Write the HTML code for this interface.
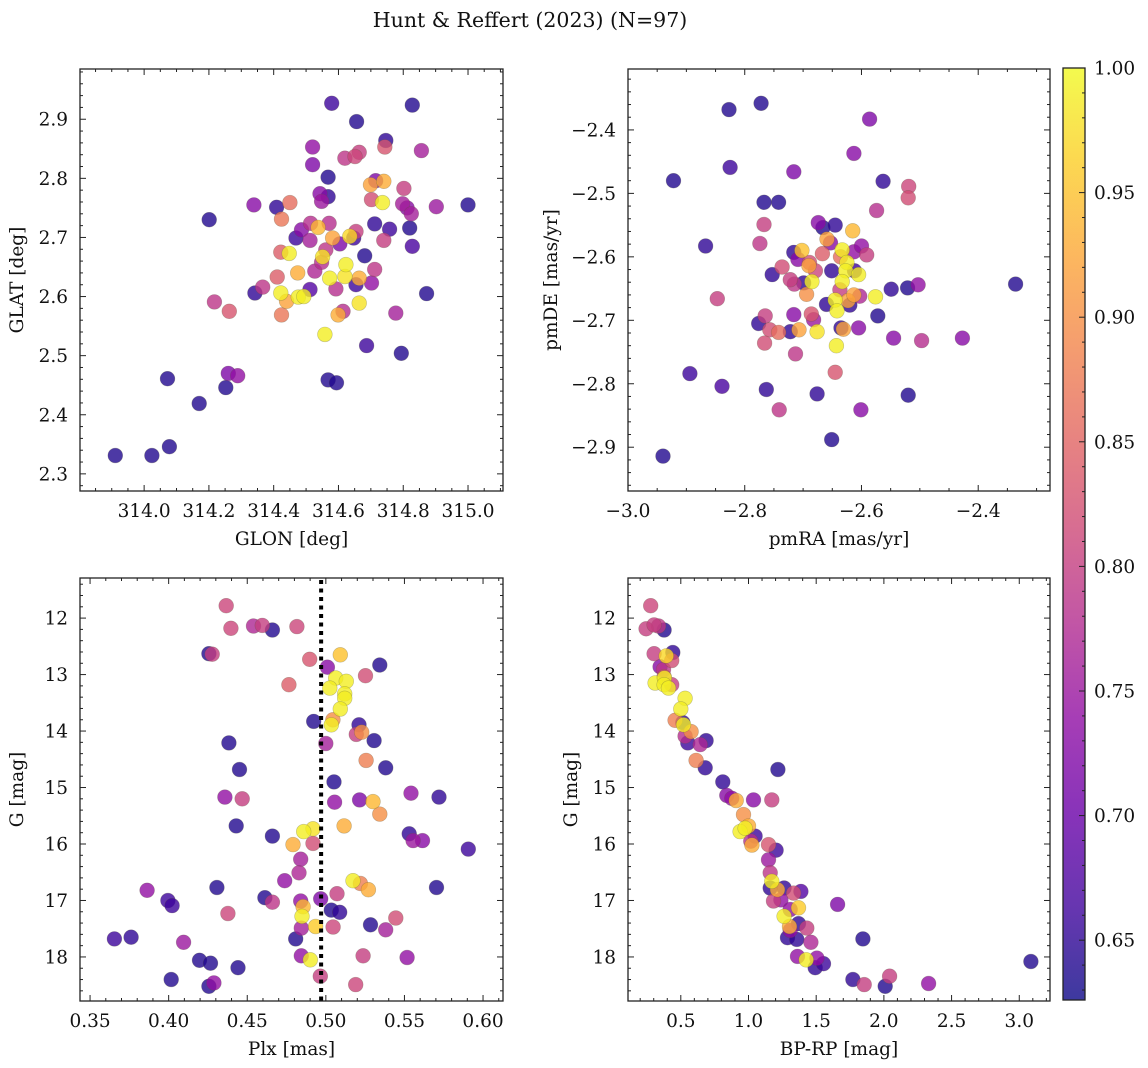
<!DOCTYPE html>
<html><head><meta charset="utf-8"><style>
html,body{margin:0;padding:0;background:#fff}
svg{display:block;font-family:"DejaVu Serif","Liberation Serif",serif}
</style></head><body>
<svg id="fig" width="1148" height="1068" viewBox="0 0 1148 1068" xmlns="http://www.w3.org/2000/svg">
<defs><linearGradient id="cbg" x1="0" y1="1" x2="0" y2="0">
<stop offset="0" stop-color="#0d0887"/><stop offset="0.1" stop-color="#41049d"/><stop offset="0.2" stop-color="#6a00a8"/><stop offset="0.3" stop-color="#8f0da4"/><stop offset="0.4" stop-color="#b12a90"/><stop offset="0.5" stop-color="#cc4778"/><stop offset="0.6" stop-color="#e16462"/><stop offset="0.7" stop-color="#f2844b"/><stop offset="0.8" stop-color="#fca636"/><stop offset="0.9" stop-color="#fcce25"/><stop offset="1" stop-color="#f0f921"/></linearGradient></defs>
<text x="530" y="27" text-anchor="middle" font-size="20.5" fill="#111">Hunt &amp; Reffert (2023) (N=97)</text>
</svg>
<script>
// ---- Panel 1: GLON / GLAT ----
const tlLon=[313.911,314.024,314.078,314.072,314.170,314.252,314.260,314.289,314.201,314.217,314.263,314.339,314.342,314.366,314.409,314.424,314.450,314.422,314.448,314.411,314.474,314.422,314.440,314.424,314.476,314.493,314.469,314.486,314.512,314.514,314.537,314.512,314.527,314.520,314.520,314.543,314.548,314.568,314.568,314.579,314.571,314.561,314.548,314.551,314.582,314.604,314.573,314.592,314.599,314.614,314.558,314.568,314.594,314.620,314.651,314.664,314.656,314.623,314.620,314.635,314.654,314.647,314.654,314.664,314.664,314.681,314.687,314.702,314.712,314.712,314.702,314.699,314.715,314.740,314.736,314.740,314.743,314.746,314.758,314.777,314.794,314.802,314.798,314.812,314.825,314.820,314.828,314.828,314.856,314.872,314.902,315.000];
const tlLat=[2.331,2.331,2.346,2.461,2.419,2.446,2.470,2.466,2.730,2.591,2.575,2.755,2.606,2.616,2.751,2.731,2.759,2.675,2.673,2.633,2.640,2.606,2.592,2.569,2.599,2.600,2.699,2.713,2.695,2.724,2.717,2.612,2.643,2.853,2.823,2.774,2.761,2.769,2.802,2.927,2.724,2.679,2.658,2.667,2.699,2.689,2.631,2.613,2.569,2.575,2.536,2.459,2.454,2.834,2.837,2.844,2.896,2.654,2.634,2.702,2.710,2.699,2.620,2.631,2.589,2.669,2.517,2.764,2.723,2.646,2.623,2.789,2.796,2.795,2.759,2.695,2.853,2.864,2.714,2.572,2.504,2.783,2.757,2.750,2.740,2.716,2.685,2.924,2.847,2.605,2.752,2.755];
const tlProb=[.64,.64,.64,.64,.64,.64,.72,.74,.64,.79,.83,.73,.65,.79,.65,.87,.86,.84,.99,.84,.93,.99,.92,.87,.99,.99,.66,.73,.76,.78,.94,.68,.77,.74,.72,.73,.75,.65,.64,.66,.78,.79,.78,.98,.92,.72,.99,.78,.93,.78,.99,.64,.64,.79,.81,.80,.64,.99,.98,.97,.80,.66,.66,.93,.98,.64,.66,.82,.65,.79,.74,.92,.72,.93,.99,.80,.83,.65,.66,.76,.64,.80,.76,.73,.76,.64,.67,.64,.76,.64,.75,.64];
// ---- Panel 2: pmRA / pmDE ----
const trRA=[-2.827,-2.772,-2.922,-2.825,-2.716,-2.767,-2.742,-2.867,-2.847,-2.894,-2.839,-2.940,-2.767,-2.774,-2.586,-2.613,-2.563,-2.519,-2.520,-2.574,-2.674,-2.666,-2.645,-2.659,-2.653,-2.615,-2.633,-2.636,-2.613,-2.600,-2.591,-2.625,-2.627,-2.612,-2.605,-2.633,-2.716,-2.702,-2.709,-2.689,-2.690,-2.667,-2.679,-2.685,-2.699,-2.736,-2.753,-2.722,-2.715,-2.694,-2.651,-2.637,-2.645,-2.642,-2.660,-2.623,-2.620,-2.613,-2.603,-2.576,-2.549,-2.521,-2.503,-2.336,-2.572,-2.716,-2.765,-2.776,-2.757,-2.742,-2.707,-2.722,-2.686,-2.682,-2.676,-2.635,-2.631,-2.643,-2.605,-2.766,-2.713,-2.645,-2.763,-2.676,-2.520,-2.741,-2.601,-2.651,-2.545,-2.497,-2.427];
const trDE=[-2.368,-2.358,-2.480,-2.459,-2.466,-2.514,-2.514,-2.583,-2.666,-2.784,-2.804,-2.914,-2.549,-2.579,-2.383,-2.437,-2.481,-2.489,-2.507,-2.527,-2.546,-2.554,-2.550,-2.572,-2.578,-2.559,-2.589,-2.600,-2.592,-2.583,-2.597,-2.609,-2.622,-2.622,-2.628,-2.639,-2.593,-2.590,-2.604,-2.609,-2.614,-2.595,-2.622,-2.639,-2.641,-2.616,-2.628,-2.636,-2.643,-2.659,-2.622,-2.652,-2.668,-2.685,-2.675,-2.669,-2.676,-2.660,-2.662,-2.663,-2.651,-2.649,-2.644,-2.643,-2.693,-2.691,-2.693,-2.705,-2.715,-2.719,-2.715,-2.718,-2.690,-2.699,-2.718,-2.712,-2.714,-2.740,-2.712,-2.736,-2.753,-2.782,-2.809,-2.816,-2.818,-2.841,-2.841,-2.888,-2.728,-2.732,-2.728];
const trProb=[.64,.64,.64,.66,.72,.64,.64,.65,.80,.66,.67,.64,.80,.79,.72,.73,.65,.81,.82,.78,.73,.64,.65,.92,.73,.94,.99,.86,.74,.74,.80,.99,.99,.66,.99,.99,.65,.95,.73,.82,.92,.84,.81,.99,.65,.82,.65,.80,.79,.90,.65,.80,.99,.99,.65,.92,.65,.92,.77,.99,.65,.64,.74,.64,.64,.73,.80,.65,.82,.86,.92,.65,.83,.75,.98,.65,.92,.99,.73,.82,.79,.83,.65,.65,.64,.79,.73,.64,.73,.78,.73];
// ---- Panel 3: Plx / G ----
const blPlx=[.4366,.4396,.454,.4596,.466,.4816,.4256,.4277,.5092,.4897,.501,.5343,.5063,.513,.5252,.4765,.5025,.512,.512,.5092,.5045,.5035,.4923,.5211,.5194,.5228,.5307,.4383,.5,.5256,.4451,.5381,.5052,.4358,.4468,.5056,.5215,.53,.5343,.5542,.572,.443,.4859,.4918,.5116,.466,.4791,.4918,.553,.5555,.5615,.5906,.484,.4829,.4738,.5173,.522,.5271,.3863,.4307,.5704,.5071,.4612,.466,.4967,.484,.4855,.4848,.3995,.4022,.4377,.5035,.5088,.4935,.4844,.5046,.5284,.5381,.5445,.3655,.3761,.4095,.4808,.4844,.4901,.5237,.5517,.4196,.4266,.4441,.4016,.4965,.4256,.4288,.519];
const blG=[11.78,12.18,12.14,12.13,12.21,12.15,12.63,12.64,12.65,12.73,12.87,12.83,13.06,13.12,13.02,13.18,13.24,13.34,13.42,13.61,13.80,13.89,13.83,13.89,14.06,14.02,14.17,14.21,14.22,14.52,14.68,14.65,14.90,15.17,15.20,15.26,15.22,15.25,15.47,15.10,15.17,15.68,15.78,15.73,15.68,15.86,16.01,15.99,15.82,15.94,15.94,16.09,16.27,16.51,16.65,16.65,16.70,16.81,16.82,16.77,16.77,16.88,16.95,17.03,16.97,17.01,17.11,17.28,17.00,17.09,17.23,17.17,17.21,17.46,17.49,17.47,17.43,17.52,17.31,17.68,17.65,17.74,17.68,17.98,18.05,17.98,18.01,18.06,18.11,18.19,18.40,18.34,18.52,18.46,18.49];
const blProb=[.81,.81,.77,.80,.64,.81,.64,.80,.95,.83,.73,.64,.99,.99,.82,.84,.99,.99,.99,.99,.90,.99,.64,.65,.80,.90,.64,.64,.76,.88,.64,.64,.64,.74,.80,.74,.72,.94,.90,.74,.65,.64,.99,.98,.93,.64,.93,.82,.65,.75,.73,.66,.76,.77,.74,.99,.88,.93,.74,.64,.64,.80,.64,.79,.72,.74,.94,.99,.66,.66,.81,.64,.65,.96,.76,.81,.64,.76,.82,.66,.65,.75,.64,.74,.99,.80,.74,.64,.64,.64,.64,.80,.64,.74,.81];
// ---- Panel 4: BP-RP / G ----
const brCol=[0.278,0.244,0.303,0.335,0.377,0.303,0.392,0.441,0.433,0.347,0.372,0.377,0.310,0.379,0.377,0.409,0.433,0.532,0.5,0.458,0.515,0.52,0.576,0.532,0.552,0.643,0.687,0.613,0.680,1.217,0.810,0.840,0.877,0.909,1.037,1.172,0.963,1.0,0.938,0.975,1.049,1.017,1.025,1.148,1.204,1.148,1.160,1.172,1.160,1.214,1.263,1.185,1.239,1.333,1.387,1.369,1.263,1.308,1.303,1.308,1.431,1.288,1.357,1.369,1.461,1.362,1.426,1.505,1.493,1.554,1.658,1.845,1.771,1.855,2.010,2.042,2.330,3.086];
const brG=[11.78,12.19,12.12,12.14,12.21,12.63,12.67,12.61,12.75,12.86,12.91,13.04,13.15,13.06,13.18,13.24,13.18,13.42,13.61,13.81,13.85,13.89,14.01,14.09,14.21,14.24,14.17,14.52,14.65,14.68,14.90,15.14,15.19,15.23,15.22,15.22,15.48,15.68,15.78,15.72,15.86,15.95,16.02,16.01,16.11,16.28,16.51,16.66,16.78,16.81,16.78,17.01,16.99,16.87,16.84,17.13,17.28,17.16,17.46,17.53,17.49,17.66,17.69,17.41,17.74,17.99,18.05,18.02,18.19,18.12,17.07,17.68,18.40,18.49,18.52,18.34,18.47,18.08];
const brProb=[.81,.80,.80,.79,.64,.80,.97,.65,.82,.73,.79,.83,.99,.99,.99,.99,.80,.99,.99,.88,.65,.99,.90,.78,.66,.77,.65,.88,.65,.64,.65,.73,.74,.93,.73,.80,.90,.93,.99,.99,.66,.78,.93,.83,.66,.75,.79,.99,.65,.93,.65,.80,.74,.82,.68,.96,.99,.74,.93,.74,.80,.65,.65,.65,.77,.74,.99,.74,.65,.66,.72,.64,.65,.80,.64,.80,.74,.64];
// ---- tick label arrays ----
const tlXTicks=[314.0,314.2,314.4,314.6,314.8,315.0];
const tlYTicks=[2.3,2.4,2.5,2.6,2.7,2.8,2.9];
const trXTicks=[-3.0,-2.8,-2.6,-2.4];
const trYTicks=[-2.9,-2.8,-2.7,-2.6,-2.5,-2.4];
const blXTicks=[0.35,0.40,0.45,0.50,0.55,0.60];
const gTicks=[12,13,14,15,16,17,18];
const brXTicks=[0.5,1.0,1.5,2.0,2.5,3.0];
const cbTicks=[0.65,0.70,0.75,0.80,0.85,0.90,0.95,1.00];
const plxCut=[0.497];

const svg=document.getElementById('fig');
const NS='http://www.w3.org/2000/svg';
const FS=18.5;
function mk(tag,attrs,parent){const e=document.createElementNS(NS,tag);for(const k in attrs)e.setAttribute(k,attrs[k]);(parent||svg).appendChild(e);return e;}
const stops=[[13,8,135],[65,4,157],[106,0,168],[143,13,164],[177,42,144],[204,71,120],[225,100,98],[242,132,75],[252,166,54],[252,206,37],[240,249,33]];
const VMIN=0.626,VMAX=1.0;
function plasma(v){let t=(v-VMIN)/(VMAX-VMIN);t=Math.max(0,Math.min(1,t));const f=t*10,i=Math.min(9,Math.floor(f)),r=f-i;const a=stops[i],b=stops[i+1];return 'rgb('+[0,1,2].map(k=>Math.round(a[k]+(b[k]-a[k])*r)).join(',')+')';}
function fmt(v,d){const s=Math.abs(v).toFixed(d);return (v<0?'\u2212':'')+s;}

function panel(cfg){
  const {name,x0,x1,y0,y1,xlim,ylim,invY,xt,yt,xd,yd,xminor,yminor,xlabel,ylabel,ylabX}=cfg;
  const g=mk('g',{});
  
  
  const sx=v=>x0+(v-xlim[0])/(xlim[1]-xlim[0])*(x1-x0);
  const sy=invY?(v=>y0+(v-ylim[0])/(ylim[1]-ylim[0])*(y1-y0)):(v=>y1-(v-ylim[0])/(ylim[1]-ylim[0])*(y1-y0));
  const pg=mk('g',{},g);
  
  
  const order=cfg.px.map((_,i)=>i).sort((a,b)=>cfg.pc[a]-cfg.pc[b]);
  order.forEach(i=>{
    const c=mk('circle',{cx:sx(cfg.px[i]).toFixed(1),cy:sy(cfg.py[i]).toFixed(1),r:7.4,fill:plasma(cfg.pc[i]),'fill-opacity':0.8,stroke:'rgba(90,90,60,0.35)','stroke-width':0.6},pg);
    
    
  });
  if(cfg.extra)cfg.extra(g,sx,sy);
  const fr=mk('rect',{x:x0,y:y0,width:x1-x0,height:y1-y0,fill:'none',stroke:'#222','stroke-width':1.3},g);
  
  
  const tk=mk('g',{stroke:'#222','stroke-width':1},g);
  const lo=Math.min(...xlim),hi=Math.max(...xlim);
  for(let k=Math.ceil(lo/xminor-1e-6);k*xminor<=hi+1e-9;k++){const v=k*xminor;const X=sx(v);const major=xt.some(t=>Math.abs(t-v)<xminor/10);const L=major?6:3;
    mk('line',{x1:X,x2:X,y1:y1,y2:y1-L},tk);mk('line',{x1:X,x2:X,y1:y0,y2:y0+L},tk);}
  const ylo=Math.min(...ylim),yhi=Math.max(...ylim);
  for(let k=Math.ceil(ylo/yminor-1e-6);k*yminor<=yhi+1e-9;k++){const v=k*yminor;const Y=sy(v);const major=yt.some(t=>Math.abs(t-v)<yminor/10);const L=major?6:3;
    mk('line',{x1:x0,x2:x0+L,y1:Y,y2:Y},tk);mk('line',{x1:x1,x2:x1-L,y1:Y,y2:Y},tk);}
  xt.forEach(v=>{const t=mk('text',{x:sx(v),y:y1+26,'text-anchor':'middle','font-size':FS,fill:'#111'},g);t.textContent=fmt(v,xd);
    
    });
  yt.forEach(v=>{const t=mk('text',{x:x0-12,y:sy(v)+6.5,'text-anchor':'end','font-size':FS,fill:'#111'},g);t.textContent=fmt(v,yd);
    
    });
  const xl=mk('text',{x:(x0+x1)/2,y:y1+54,'text-anchor':'middle','font-size':FS,fill:'#111'},g);xl.textContent=xlabel;
  
  
  const yc=(y0+y1)/2;
  const yl=mk('text',{x:ylabX,y:yc,'text-anchor':'middle','font-size':FS,fill:'#111',transform:'rotate(-90 '+ylabX+' '+yc+')'},g);yl.textContent=ylabel;
  
  
}

panel({name:'glon-glat-panel',x0:80,x1:503,y0:69,y1:491,xlim:[313.802,315.108],ylim:[2.271,2.985],invY:false,xt:tlXTicks,yt:tlYTicks,xd:1,yd:1,xminor:0.05,yminor:0.02,xlabel:'GLON [deg]',ylabel:'GLAT [deg]',ylabX:23,px:tlLon,py:tlLat,pc:tlProb});
panel({name:'pm-panel',x0:628,x1:1050,y0:69,y1:491,xlim:[-3.0,-2.277],ylim:[-2.969,-2.304],invY:false,xt:trXTicks,yt:trYTicks,xd:1,yd:1,xminor:0.05,yminor:0.02,xlabel:'pmRA [mas/yr]',ylabel:'pmDE [mas/yr]',ylabX:557,px:trRA,py:trDE,pc:trProb});
panel({name:'plx-g-panel',x0:80,x1:503,y0:578,y1:1001,xlim:[0.3436,0.6127],ylim:[11.29,18.78],invY:true,xt:blXTicks,yt:gTicks,xd:2,yd:0,xminor:0.01,yminor:0.2,xlabel:'Plx [mas]',ylabel:'G [mag]',ylabX:23,px:blPlx,py:blG,pc:blProb,
 extra:(g,sx,sy)=>{plxCut.forEach(v=>{const l=mk('line',{x1:sx(v),x2:sx(v),y1:580,y2:1001,stroke:'#000','stroke-width':4,'stroke-dasharray':'4 4.5'},g);
   
   });}});
panel({name:'cmd-panel',x0:628,x1:1050,y0:578,y1:1001,xlim:[0.11,3.227],ylim:[11.29,18.78],invY:true,xt:brXTicks,yt:gTicks,xd:1,yd:0,xminor:0.1,yminor:0.2,xlabel:'BP-RP [mag]',ylabel:'G [mag]',ylabX:577,px:brCol,py:brG,pc:brProb});

const cb=mk('g',{});


const cbx0=1063,cbx1=1085,cby0=68,cby1=1000;
mk('rect',{x:cbx0,y:cby0,width:cbx1-cbx0,height:cby1-cby0,fill:'url(#cbg)','fill-opacity':0.8},cb);
mk('rect',{x:cbx0,y:cby0,width:cbx1-cbx0,height:cby1-cby0,fill:'none',stroke:'#222','stroke-width':1.3},cb);
const cy=v=>cby1-(v-VMIN)/(VMAX-VMIN)*(cby1-cby0);
for(let k=63;k<=100;k++){const v=k/100;const Y=cy(v);const major=k%5===0;mk('line',{x1:cbx1,x2:cbx1-(major?6:3),y1:Y,y2:Y,stroke:'#222','stroke-width':1},cb);}
cbTicks.forEach(v=>{const t=mk('text',{x:1094,y:cy(v)+6.5,'font-size':FS,fill:'#111'},cb);t.textContent=v.toFixed(2);
  
  });
</script>
</body></html>
